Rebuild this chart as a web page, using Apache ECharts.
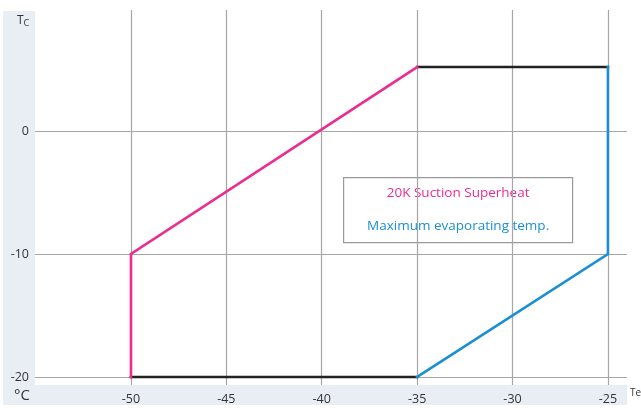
<!DOCTYPE html>
<html><head><meta charset="utf-8">
<script src="https://cdn.jsdelivr.net/npm/echarts@6/dist/echarts.min.js"></script>
<style>html,body{margin:0;padding:0;background:#fff}#c{width:641px;height:408px}</style>
</head><body><div id="c"></div>
<script>
const xTicks = [-50, -45, -40, -35, -30, -25];
const yTicks = [-20, -10, 0];
const superheatLine = [[-50, -20], [-50, -10], [-35, 5.2]];
const topLine = [[-35, 5.2], [-25, 5.2]];
const maxEvapLine = [[-25, 5.2], [-25, -10], [-35, -20]];
const bottomLine = [[-35, -20], [-50, -20]];
const legendTexts = ['20K Suction Superheat', 'Maximum evaporating temp.'];

const PINK = '#ec2c8f', BLUE = '#1b8fd5', BLACK = '#222222', GRID = '#a6a6a6', BAND = '#e9eef5';
const FONT = '"Open Sans", "Noto Sans", sans-serif';

const chart = echarts.init(document.getElementById('c'), null, {renderer: 'canvas'});
const lineSeries = (data, color) => ({
  type: 'line', data, symbol: 'none', silent: true, z: 5,
  lineStyle: {color, width: 2.6, cap: 'square', join: 'miter'}
});
chart.setOption({
  animation: false,
  backgroundColor: '#fff',
  grid: {left: 35, right: 14, top: 10, bottom: 23, containLabel: false},
  graphic: [
    {type: 'rect', z: -10, shape: {x: 3, y: 11, width: 32, height: 394}, style: {fill: BAND}, silent: true},
    {type: 'rect', z: -10, shape: {x: 3, y: 385, width: 624, height: 20}, style: {fill: BAND}, silent: true},
    {type: 'text', left: 17, top: 15, z: 10, style: {text: '{a|T}{b|C}', rich: {a: {fontSize: 12, fontFamily: FONT, fill: '#333'}, b: {fontSize: 9, fontFamily: FONT, fill: '#333', padding: [4, 0, 0, 0]}}}},
    {type: 'text', left: 14, top: 388, z: 10, style: {text: '°C', fontSize: 15, fontFamily: FONT, fill: '#333'}},
    {type: 'text', left: 630, top: 388, z: 10, style: {text: 'Te', fontSize: 10, fontFamily: FONT, fill: '#333'}},
    {type: 'group', left: 343, top: 177, z: 20, children: [
      {type: 'rect', shape: {x: 0, y: 0, width: 229, height: 65}, style: {fill: '#fff', stroke: '#9a9a9a', lineWidth: 1.2}},
      {type: 'text', x: 114.5, y: 16, style: {text: legendTexts[0], fill: PINK, fontSize: 13.5, fontFamily: FONT, align: 'center', verticalAlign: 'middle'}},
      {type: 'text', x: 114.5, y: 49, style: {text: legendTexts[1], fill: BLUE, fontSize: 13.5, fontFamily: FONT, align: 'center', verticalAlign: 'middle'}}
    ]}
  ],
  xAxis: {
    type: 'value', min: -55.03, max: -24,
    axisLine: {show: false},
    axisTick: {show: false, customValues: xTicks},
    axisLabel: {customValues: xTicks, color: '#333', fontSize: 12.5, fontFamily: FONT, margin: 8},
    splitLine: {show: true, lineStyle: {color: GRID, width: 1.2}}
  },
  yAxis: {
    type: 'value', min: -20.65, max: 9.84,
    axisLine: {show: false},
    axisTick: {show: false, customValues: yTicks},
    axisLabel: {customValues: yTicks, color: '#333', fontSize: 12.5, fontFamily: FONT, margin: 6},
    splitLine: {show: true, lineStyle: {color: GRID, width: 1.2}}
  },
  series: [
    lineSeries(bottomLine, BLACK),
    lineSeries(topLine, BLACK),
    lineSeries(superheatLine, PINK),
    lineSeries(maxEvapLine, BLUE)
  ]
});
</script></body></html>
